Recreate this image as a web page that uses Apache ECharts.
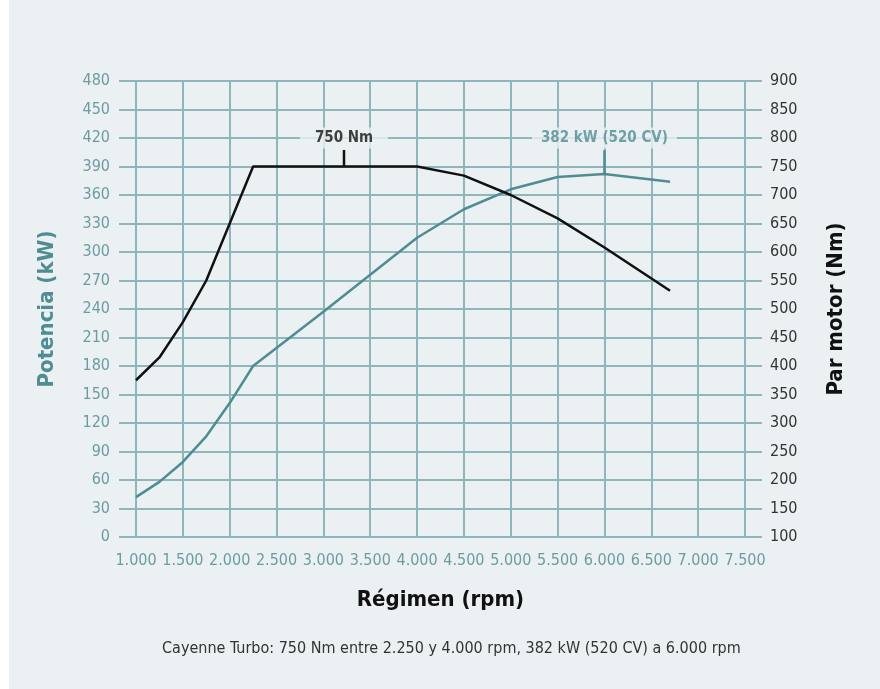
<!DOCTYPE html>
<html>
<head>
<meta charset="utf-8">
<script src="https://cdn.jsdelivr.net/npm/echarts@6/dist/echarts.min.js"></script>
<style>
html,body{margin:0;padding:0;background:#ffffff;}
#chart{width:880px;height:689px;}
</style>
</head>
<body>
<div id="chart"></div>
<script>
// ---- data ----
const rpmTorque = [1000, 1250, 1500, 1750, 2000, 2250, 4000, 4500, 5000, 5500, 6000, 6700];
const torqueNm  = [375, 415, 477, 550, 650, 750, 750, 734, 700, 659, 608, 532];
const rpmPower  = [1000, 1250, 1500, 1750, 2000, 2250, 3000, 3500, 4000, 4500, 5000, 5500, 6000, 6700];
const powerKw   = [42, 58, 79, 106, 141, 180, 237, 276, 315, 345, 366, 379, 382, 374];

const torqueNote = { rpm: 3220, value: 750, text: '750 Nm' };
const powerNote  = { rpm: 6000, value: 382, text: '382 kW (520 CV)' };
const noteLevelKw = 420;          // label sits on the 420 kW grid line
const torqueTickTop = 779;        // Nm
const powerTickTop = 407;         // kW

const caption = 'Cayenne Turbo: 750 Nm entre 2.250 y 4.000 rpm, 382 kW (520 CV) a 6.000 rpm';

// ---- styles ----
const BG = '#ebf0f3';
const GRID = '#8fb6bb';
const TEAL = '#4f8c93';
const TEAL_TXT = '#6c9ca2';
const NARROW = '"DejaVu Sans Condensed", "Roboto", sans-serif';

const chart = echarts.init(document.getElementById('chart'), null, {renderer: 'canvas'});

const zip = (a, b) => a.map((x, i) => [x, b[i]]);

const option = {
  backgroundColor: 'transparent',
  animation: false,
  graphic: [
    { type: 'rect', left: 9, top: 0, shape: { width: 871, height: 689 }, style: { fill: BG }, z: -10 },
    { type: 'text', left: 162, top: 641,
      style: { text: caption, font: '16px ' + NARROW, fill: '#333333' } }
  ],
  grid: { left: 136, right: 135, top: 81, bottom: 152 },
  xAxis: {
    type: 'value', min: 1000, max: 7500, interval: 500,
    name: 'Régimen (rpm)', nameLocation: 'middle', nameGap: 52,
    nameTextStyle: { fontFamily: NARROW, fontWeight: 'bold', fontSize: 22, color: '#111111' },
    axisLine: { show: true, lineStyle: { color: GRID, width: 2 } },
    axisTick: { show: false },
    axisLabel: { fontFamily: NARROW, fontSize: 16, color: TEAL_TXT, margin: 16,
                 showMinLabel: true, showMaxLabel: true, hideOverlap: false,
                 formatter: v => (v / 1000).toFixed(3) },
    splitLine: { show: true, lineStyle: { color: GRID, width: 2 } }
  },
  yAxis: [
    {
      type: 'value', min: 0, max: 480, interval: 30, position: 'left',
      name: 'Potencia (kW)', nameLocation: 'middle', nameGap: 78, nameRotate: 90,
      nameTextStyle: { fontFamily: NARROW, fontWeight: 'bold', fontSize: 22, color: TEAL },
      axisLine: { show: true, lineStyle: { color: GRID, width: 2 } },
      axisTick: { show: true, length: 17, lineStyle: { color: GRID, width: 2 } },
      axisLabel: { fontFamily: NARROW, fontSize: 16, color: TEAL_TXT, margin: 26 },
      splitLine: { show: true, lineStyle: { color: GRID, width: 2 } }
    },
    {
      type: 'value', min: 100, max: 900, interval: 50, position: 'right',
      name: 'Par motor (Nm)', nameLocation: 'middle', nameGap: 80, nameRotate: 90,
      nameTextStyle: { fontFamily: NARROW, fontWeight: 'bold', fontSize: 22, color: '#111111' },
      axisLine: { show: true, lineStyle: { color: GRID, width: 2 } },
      axisTick: { show: true, length: 17, lineStyle: { color: GRID, width: 2 } },
      axisLabel: { fontFamily: NARROW, fontSize: 16, color: '#333333', margin: 25 },
      splitLine: { show: false }
    }
  ],
  series: [
    {
      name: 'Potencia', type: 'line', yAxisIndex: 0, data: zip(rpmPower, powerKw),
      symbol: 'none', lineStyle: { color: TEAL, width: 2.5 }, z: 3
    },
    {
      name: 'Par', type: 'line', yAxisIndex: 1, data: zip(rpmTorque, torqueNm),
      symbol: 'none', lineStyle: { color: '#111111', width: 2.5 }, z: 4
    },
    {
      name: 'tickTorque', type: 'line', yAxisIndex: 1,
      data: [[torqueNote.rpm, torqueNote.value], [torqueNote.rpm, torqueTickTop]],
      symbol: 'none', lineStyle: { color: '#111111', width: 2.5 }, z: 4
    },
    {
      name: 'tickPower', type: 'line', yAxisIndex: 0,
      data: [[powerNote.rpm, powerNote.value], [powerNote.rpm, powerTickTop]],
      symbol: 'none', lineStyle: { color: TEAL, width: 2.5 }, z: 3
    },
    {
      name: 'notes', type: 'scatter', yAxisIndex: 0, symbolSize: 0, z: 5,
      data: [
        { value: [torqueNote.rpm, noteLevelKw],
          label: { formatter: torqueNote.text, color: '#111111', padding: [3, 15, 3, 15] } },
        { value: [powerNote.rpm, noteLevelKw],
          label: { formatter: powerNote.text, color: TEAL, padding: [3, 9, 3, 9] } }
      ],
      label: { show: true, position: 'inside', fontFamily: NARROW, fontWeight: 'bold',
               fontSize: 15, backgroundColor: BG },
      emphasis: { disabled: true }
    }
  ]
};
chart.setOption(option);
</script>
</body>
</html>
